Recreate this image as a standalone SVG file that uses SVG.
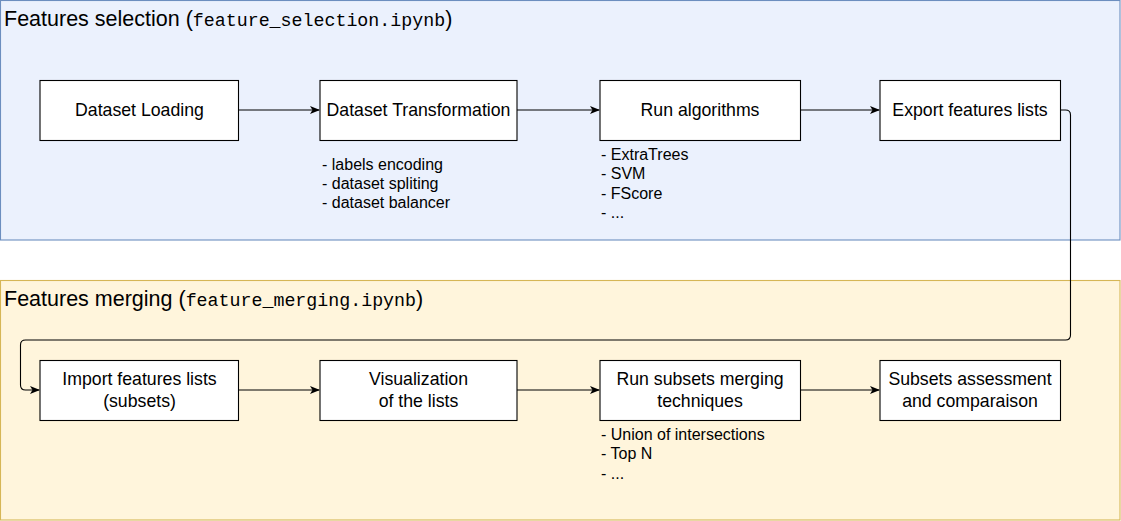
<svg xmlns="http://www.w3.org/2000/svg" width="1121" height="521" viewBox="0 0 1121 521">
<style>
.box{fill:#ffffff;stroke:#000000;stroke-width:1.1}
.lbl{font-family:"Liberation Sans",Arial,sans-serif;font-size:17.7px;fill:#000;text-anchor:middle}
.lst{font-family:"Liberation Sans",Arial,sans-serif;font-size:16px;fill:#000}
.ttl{font-family:"Liberation Sans",Arial,sans-serif;font-size:21.5px;fill:#000}
.mono{font-family:"Liberation Mono","Courier New",monospace;font-size:18.3px}
.edge{fill:none;stroke:#000;stroke-width:1.1}
</style>
<defs>
<marker id="arr" viewBox="0 0 10 10" refX="9" refY="5" markerWidth="10" markerHeight="10" markerUnits="userSpaceOnUse" orient="auto">
<path d="M0,1 L10,5 L0,9 L2.5,5 Z" fill="#000"/>
</marker>
</defs>
<g id="group-selection">
<rect x="0.5" y="0.5" width="1119.5" height="239.5" fill="#ebf1fd" stroke="#6c8ebf" stroke-width="1.1"/>
<text class="ttl" x="4" y="26">Features selection (<tspan class="mono">feature_selection.ipynb</tspan>)</text>
</g>
<g id="group-merging">
<rect x="0.5" y="280.5" width="1119.5" height="239.5" fill="#fff5dc" stroke="#d6b656" stroke-width="1.1"/>
<text class="ttl" x="4" y="306">Features merging (<tspan class="mono">feature_merging.ipynb</tspan>)</text>
</g>
<g id="connectors">
<path class="edge" d="M238.5,110 H319" marker-end="url(#arr)"/>
<path class="edge" d="M517,110 H599" marker-end="url(#arr)"/>
<path class="edge" d="M800.5,110 H879" marker-end="url(#arr)"/>
<path class="edge" d="M1060.5,110 H1065.5 Q1070.5,110 1070.5,115 V335 Q1070.5,340 1065.5,340 H25.5 Q20.5,340 20.5,345 V385 Q20.5,390 25.5,390 H39" marker-end="url(#arr)"/>
<path class="edge" d="M238.5,390 H319" marker-end="url(#arr)"/>
<path class="edge" d="M517,390 H599" marker-end="url(#arr)"/>
<path class="edge" d="M800.5,390 H879" marker-end="url(#arr)"/>
</g>
<g id="dataset-loading">
<rect class="box" x="40" y="80.5" width="198.5" height="60"/>
<text class="lbl" x="139.5" y="116">Dataset Loading</text>
</g>
<g id="dataset-transformation">
<rect class="box" x="320" y="80.5" width="197" height="60"/>
<text class="lbl" x="418.5" y="116">Dataset Transformation</text>
<text class="lst" x="322" y="169.5">- labels encoding</text>
<text class="lst" x="322" y="189">- dataset spliting</text>
<text class="lst" x="322" y="208">- dataset balancer</text>
</g>
<g id="run-algorithms">
<rect class="box" x="600" y="80.5" width="200.5" height="60"/>
<text class="lbl" x="700" y="116">Run algorithms</text>
<text class="lst" x="601" y="159.5">- ExtraTrees</text>
<text class="lst" x="601" y="179">- SVM</text>
<text class="lst" x="601" y="198.5">- FScore</text>
<text class="lst" x="601" y="218">- ...</text>
</g>
<g id="export-features">
<rect class="box" x="880" y="80.5" width="180.5" height="60"/>
<text class="lbl" x="970" y="116">Export features lists</text>
</g>
<g id="import-features">
<rect class="box" x="40" y="360.5" width="198.5" height="60"/>
<text class="lbl" x="139.5" y="385">Import features lists</text>
<text class="lbl" x="139.5" y="406.5">(subsets)</text>
</g>
<g id="visualization">
<rect class="box" x="320" y="360.5" width="197" height="60"/>
<text class="lbl" x="418.5" y="385">Visualization</text>
<text class="lbl" x="418.5" y="406.5">of the lists</text>
</g>
<g id="run-merging">
<rect class="box" x="600" y="360.5" width="200.5" height="60"/>
<text class="lbl" x="700" y="385">Run subsets merging</text>
<text class="lbl" x="700" y="406.5">techniques</text>
<text class="lst" x="601" y="439.5">- Union of intersections</text>
<text class="lst" x="601" y="459">- Top N</text>
<text class="lst" x="601" y="478.5">- ...</text>
</g>
<g id="subsets-assessment">
<rect class="box" x="880" y="360.5" width="180.5" height="60"/>
<text class="lbl" x="970" y="385">Subsets assessment</text>
<text class="lbl" x="970" y="406.5">and comparaison</text>
</g>
</svg>
